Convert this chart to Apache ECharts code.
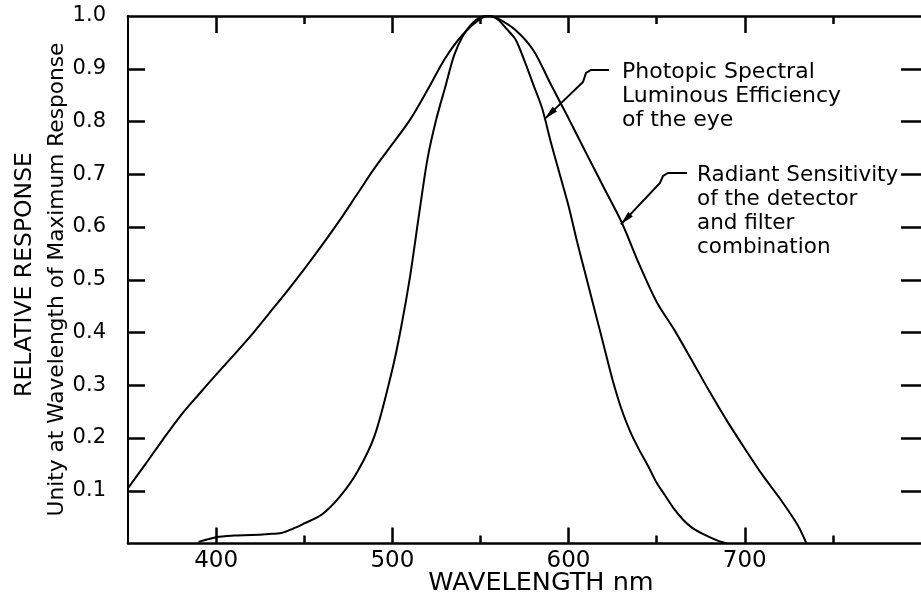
<!DOCTYPE html>
<html>
<head>
<meta charset="utf-8">
<script src="https://cdn.jsdelivr.net/npm/echarts@6/dist/echarts.min.js"></script>
<style>
html,body{margin:0;padding:0;background:#fff;}
#chart{width:921px;height:598px;}
</style>
</head>
<body>
<div id="chart"></div>
<script>
// Photopic spectral luminous efficiency of the eye (narrow curve)
const eyeWavelengths = [390,400,410,420,430,437,445,450,460,470,480,490,500,505,510,515,520,525,530,535,540,545,550,555,560,565,570,575,580,585,590,595,600,605,610,615,620,625,630,635,640,645,650,655,660,665,670,675,680,685,690];
const eyeValues      = [0.003,0.012,0.015,0.016,0.018,0.020,0.030,0.038,0.055,0.088,0.135,0.205,0.330,0.410,0.505,0.620,0.730,0.805,0.865,0.925,0.962,0.985,0.998,1.000,0.993,0.975,0.955,0.915,0.870,0.825,0.760,0.700,0.640,0.570,0.505,0.440,0.375,0.310,0.255,0.212,0.178,0.148,0.115,0.090,0.065,0.045,0.030,0.020,0.012,0.005,0.000];

// Radiant sensitivity of the detector and filter combination (wide curve)
const detWavelengths = [350,360,370,380,390,400,410,420,430,440,450,460,470,480,490,500,510,520,530,540,550,555,560,570,580,590,600,610,620,630,640,650,660,670,680,690,700,710,720,730,735];
const detValues      = [0.105,0.151,0.198,0.243,0.282,0.320,0.357,0.395,0.436,0.477,0.520,0.565,0.612,0.662,0.712,0.757,0.803,0.860,0.920,0.965,0.995,1.000,0.995,0.973,0.935,0.870,0.806,0.740,0.675,0.610,0.530,0.458,0.405,0.347,0.288,0.232,0.180,0.130,0.085,0.035,0.000];

const xMajorTicks = [400,500,600,700];
const xMinorTicks = [450,550,650,750];
const yTicks  = [0.1,0.2,0.3,0.4,0.5,0.6,0.7,0.8,0.9];
const yLabels = [0.1,0.2,0.3,0.4,0.5,0.6,0.7,0.8,0.9,1.0];

const FONT = '"DejaVu Sans", sans-serif';
const INK = '#000';

const chart = echarts.init(document.getElementById('chart'), null, {renderer:'canvas'});

const gridBox = {left:128, top:16, width:800, height:527.5};

function xAxisDef(gridIndex, position, ticks, len, showLine, labels){
  return {
    type:'value', gridIndex, position, min:350, max:800,
    axisLine:{show:showLine, onZero:false, lineStyle:{color:INK, width:2.5}},
    axisTick:{show:true, inside:true, customValues:ticks, length:len, lineStyle:{color:INK, width:2.5}},
    axisLabel: labels ? {show:true, customValues:labels, color:INK, fontFamily:FONT, fontSize:23, margin:6,
                         formatter:v=>String(v)} : {show:false},
    splitLine:{show:false}
  };
}

const option = {
  animation:false,
  backgroundColor:'#fff',
  grid:[Object.assign({}, gridBox), Object.assign({}, gridBox)],
  xAxis:[
    xAxisDef(0,'bottom',xMajorTicks,16,true,xMajorTicks),
    xAxisDef(0,'top',xMajorTicks,17,true,null),
    xAxisDef(1,'bottom',xMinorTicks,8,false,null),
    xAxisDef(1,'top',xMinorTicks,8,false,null)
  ],
  yAxis:[
    {type:'value', gridIndex:0, position:'left', min:0, max:1,
     axisLine:{show:true, onZero:false, lineStyle:{color:INK, width:2}},
     axisTick:{show:true, inside:true, customValues:yTicks, length:17, lineStyle:{color:INK, width:2.5}},
     axisLabel:{show:true, customValues:yLabels, color:INK, fontFamily:FONT, fontSize:21, margin:22,
                formatter:v=>v.toFixed(1)},
     splitLine:{show:false}},
    {type:'value', gridIndex:0, position:'right', min:0, max:1,
     axisLine:{show:false, onZero:false},
     axisTick:{show:true, inside:true, customValues:yTicks, length:20, lineStyle:{color:INK, width:2.5}},
     axisLabel:{show:false}, splitLine:{show:false}},
    {type:'value', gridIndex:1, min:0, max:1, show:false},
    {type:'value', gridIndex:1, min:0, max:1, show:false, position:'right'}
  ],
  series:[
    {name:'Photopic Spectral Luminous Efficiency of the eye', type:'line',
     xAxisIndex:0, yAxisIndex:0, showSymbol:false, smooth:0.3,
     lineStyle:{color:INK, width:2}, data:eyeWavelengths.map((w,i)=>[w, eyeValues[i]])},
    {name:'Radiant Sensitivity of the detector and filter combination', type:'line',
     xAxisIndex:0, yAxisIndex:0, showSymbol:false, smooth:0.3,
     lineStyle:{color:INK, width:2}, data:detWavelengths.map((w,i)=>[w, detValues[i]])}
  ]
};
chart.setOption(option);

// annotation anchors in data space
const eyeTip = chart.convertToPixel({xAxisIndex:0, yAxisIndex:0}, [586.5, 0.805]);
const detTip = chart.convertToPixel({xAxisIndex:0, yAxisIndex:0}, [629.7, 0.605]);

function arrowHead(from, tip){
  const dx = tip[0]-from[0], dy = tip[1]-from[1];
  const L = Math.hypot(dx,dy); const ux = dx/L, uy = dy/L;
  const len = 14, hw = 3.2;
  const bx = tip[0]-ux*len, by = tip[1]-uy*len;
  return {type:'polygon', shape:{points:[[tip[0],tip[1]],[bx-uy*hw,by+ux*hw],[bx+uy*hw,by-ux*hw]]},
          style:{fill:INK}};
}

function txt(x,y,s,size,align,rot){
  return {type:'text', x, y, rotation:rot||0,
          style:{text:s, fill:INK, font:size+'px '+FONT, textAlign:align||'left', textVerticalAlign:'middle'}};
}

const eyeBend = [583,82];
const detBend = [660,183];
const graphics = [
  txt(25,274.5,'RELATIVE RESPONSE',23.5,'center',Math.PI/2),
  txt(57,279.5,'Unity at Wavelength of Maximum Response',21.7,'center',Math.PI/2),
  txt(541,583,'WAVELENGTH nm',25.5,'center'),
  txt(622,72,'Photopic Spectral',22),
  txt(622,96,'Luminous Efficiency',22),
  txt(622,120,'of the eye',22),
  txt(697,175,'Radiant Sensitivity',21.5),
  txt(697,199,'of the detector',21.5),
  txt(697,223,'and filter',21.5),
  txt(697,247,'combination',21.5),
  {type:'polyline', shape:{points:[[609,70],[591,70],[586,73],eyeBend,eyeTip]}, style:{stroke:INK, lineWidth:2, fill:null}},
  arrowHead(eyeBend, eyeTip),
  {type:'polyline', shape:{points:[[687,173],[668,173],[663,176],detBend,detTip]}, style:{stroke:INK, lineWidth:2, fill:null}},
  arrowHead(detBend, detTip)
];
chart.setOption({graphic:graphics});
</script>
</body>
</html>
